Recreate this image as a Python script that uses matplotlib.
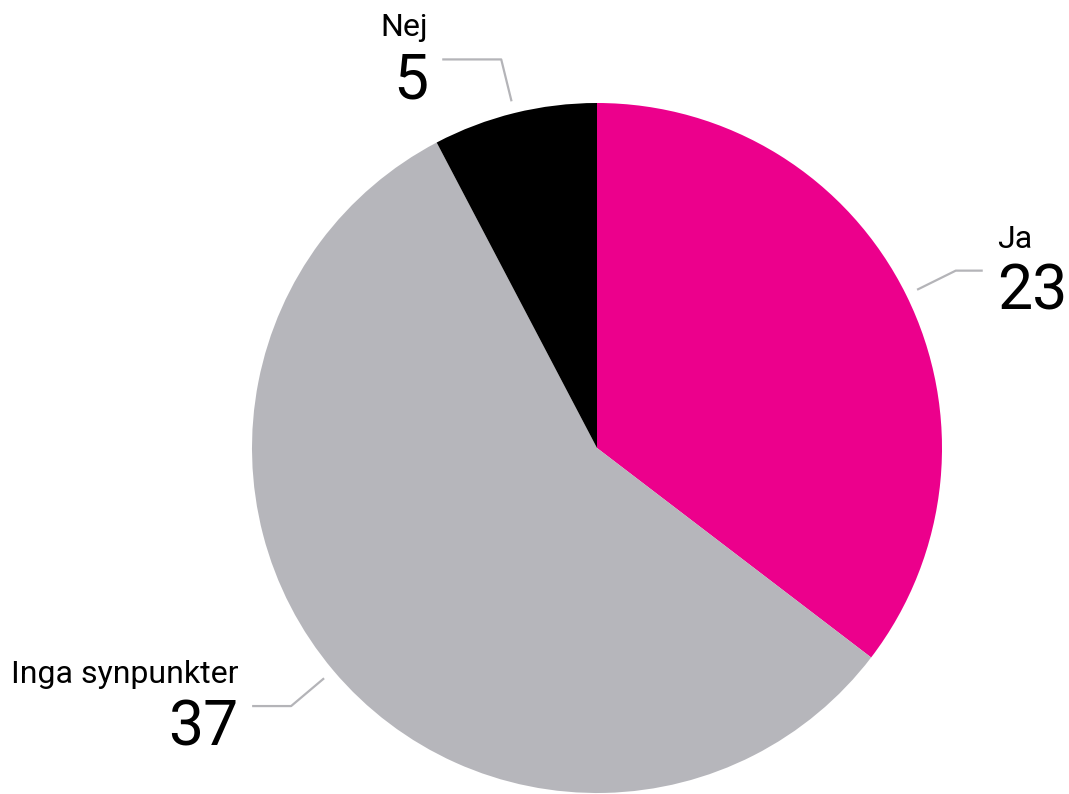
import numpy as np
import matplotlib.pyplot as plt

plt.rcParams['font.family'] = ['Roboto', 'DejaVu Sans']

labels = ['Ja', 'Inga synpunkter', 'Nej']
values = [23, 37, 5]
colors = ['#ec008c', '#b6b6bb', '#000000']

W, H = 1069, 794
cx, cy, R = 597, H - 448, 345

fig = plt.figure(figsize=(W / 100, H / 100), dpi=100)
ax = fig.add_axes([0, 0, 1, 1])

wedges, _ = ax.pie(values, colors=colors, startangle=90, counterclock=False,
                   center=(cx, cy), radius=R, frame=True,
                   wedgeprops=dict(linewidth=0))
ax.set_xlim(0, W)
ax.set_ylim(0, H)
ax.set_aspect('equal')
ax.axis('off')

# horizontal run of each leader line (negative = towards the left)
runs = [27, -39, -59]
gap = 14

for w, lab, val, run in zip(wedges, labels, values, runs):
    mid = np.deg2rad((w.theta1 + w.theta2) / 2)
    x0, y0 = cx + 1.035 * R * np.cos(mid), cy + 1.035 * R * np.sin(mid)
    x1, y1 = cx + 1.16 * R * np.cos(mid), cy + 1.16 * R * np.sin(mid)
    x2 = x1 + run
    ax.plot([x0, x1, x2], [y0, y1, y1], color='#b4b4b8', lw=1.6,
            solid_capstyle='butt')
    if run > 0:
        tx, ha = x2 + gap, 'left'
    else:
        tx, ha = x2 - gap, 'right'
    ax.text(tx, y1 - 39, str(val), ha=ha, va='baseline', fontsize=45,
            color='black')
    ax.text(tx, y1 + 23, lab, ha=ha, va='baseline', fontsize=23,
            color='black')

fig.savefig('out.png', dpi=100)
